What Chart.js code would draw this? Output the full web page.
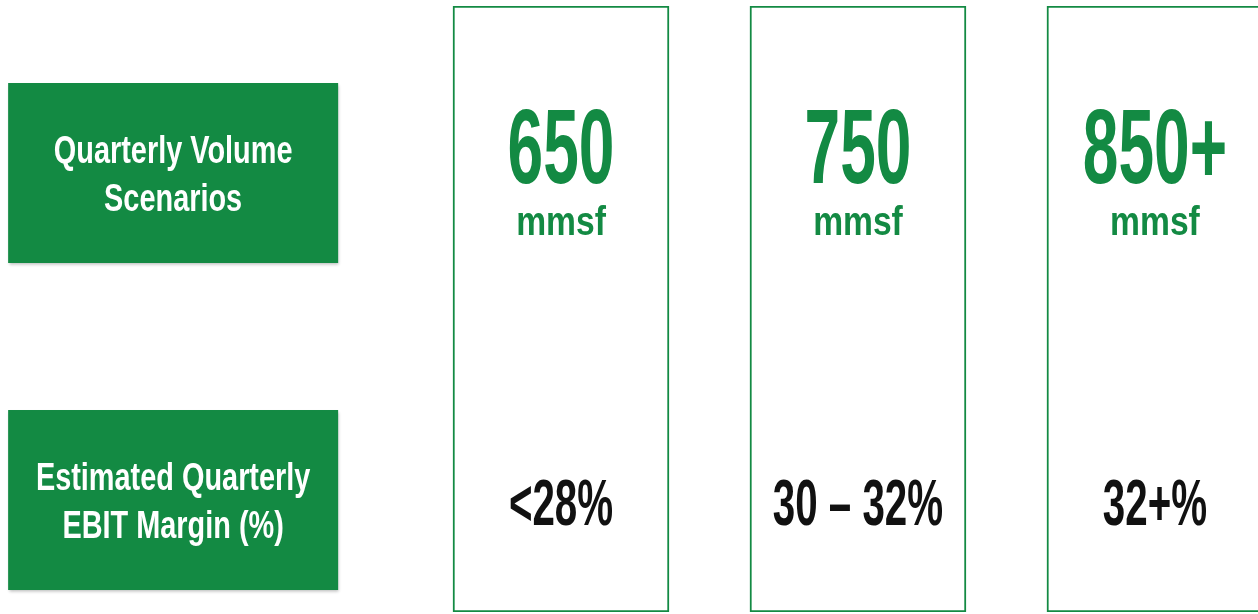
<!DOCTYPE html>
<html>
<head>
<meta charset="utf-8">
<script src="https://cdn.jsdelivr.net/npm/chart.js@4.4.0/dist/chart.umd.min.js"></script>
<style>
  html, body { margin: 0; padding: 0; background: #fff; overflow: hidden; }
  #wrap { width: 1258px; height: 614px; position: relative; }
</style>
</head>
<body>
<div id="wrap"><canvas id="scenarioChart"></canvas></div>
<script>
// chart content
const scenarios = ['650', '750', '850+'];
const volumeUnit = 'mmsf';
const margins = ['<28%', '30 \u2013 32%', '32+%'];
const rowLabels = [
  ['Quarterly Volume', 'Scenarios'],
  ['Estimated Quarterly', 'EBIT Margin (%)']
];

// layout (scale units)
const scenarioX = [1, 2, 3];
const headerX = -0.306;
const rowY = [0.2756, 0.8152];

const GREEN = '#138a43';
const FONT = '"Liberation Sans", Arial, sans-serif';

function squeezedText(ctx, text, x, y, size, sx, color) {
  ctx.save();
  ctx.font = 'bold ' + size + 'px ' + FONT;
  ctx.fillStyle = color;
  ctx.textAlign = 'center';
  ctx.textBaseline = 'alphabetic';
  ctx.translate(x, y);
  ctx.scale(sx, 1);
  ctx.fillText(text, 0, 0);
  ctx.restore();
}

const cellText = {
  id: 'cellText',
  afterDatasetsDraw(chart) {
    const { ctx, scales: { x, y } } = chart;

    // row header boxes
    rowLabels.forEach((lines, r) => {
      const cx = x.getPixelForValue(headerX);
      const cy = y.getPixelForValue(rowY[r]);
      ctx.save();
      ctx.shadowColor = 'rgba(0,0,0,0.25)';
      ctx.shadowBlur = 3;
      ctx.shadowOffsetX = 1;
      ctx.shadowOffsetY = 2;
      ctx.fillStyle = GREEN;
      ctx.fillRect(cx - 165, cy - 90, 330, 180);
      ctx.restore();
      squeezedText(ctx, lines[0], cx, cy - 10, 38, 0.76, '#fff');
      squeezedText(ctx, lines[1], cx, cy + 38, 38, 0.76, '#fff');
    });

    // scenario column texts
    scenarios.forEach((s, i) => {
      const cx = x.getPixelForValue(scenarioX[i]);
      const y1 = y.getPixelForValue(rowY[0]);
      const y2 = y.getPixelForValue(rowY[1]);
      squeezedText(ctx, s, cx, y1 + 10, 105, 0.61, GREEN);
      squeezedText(ctx, volumeUnit, cx, y1 + 62, 41, 0.82, GREEN);
      squeezedText(ctx, margins[i], cx, y2 + 25, 65, 0.62, '#111');
    });
  }
};

const ctx = document.getElementById('scenarioChart').getContext('2d');
const scenarioChart = new Chart(ctx, {
  type: 'bar',
  data: {
    datasets: [{
      label: 'Scenarios',
      data: scenarios.map((s, i) => ({ x: scenarioX[i], y: [0, 1] })),
      backgroundColor: '#ffffff',
      borderColor: GREEN,
      borderWidth: 2,
      borderSkipped: false,
      barThickness: 216
    }]
  },
  options: {
    responsive: true,
    maintainAspectRatio: false,
    animation: false,
    layout: { padding: { top: 6, bottom: 2, left: 0, right: 0 } },
    scales: {
      x: { type: 'linear', min: -0.889, max: 3.347, offset: false, display: false },
      y: { min: 0, max: 1, reverse: true, display: false }
    },
    plugins: {
      legend: { display: false },
      tooltip: { enabled: false }
    }
  },
  plugins: [cellText]
});
</script>
</body>
</html>
